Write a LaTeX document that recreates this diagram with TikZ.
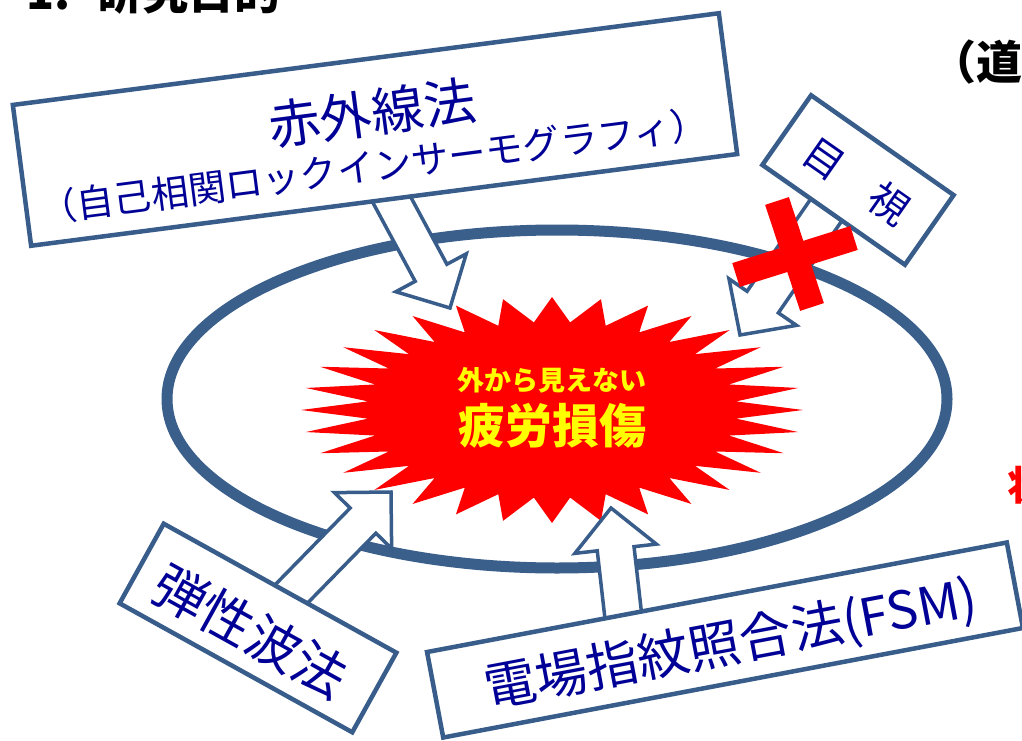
\documentclass[tikz,border=0pt]{standalone}
\usepackage{fontspec}
\newfontfamily\jp{Noto Sans CJK JP}
\usetikzlibrary{calc}
\definecolor{boxblue}{RGB}{56,93,138}
\definecolor{ringblue}{RGB}{58,95,139}
\definecolor{txtblue}{RGB}{0,0,150}
\definecolor{burst}{RGB}{255,0,0}
\definecolor{burstText}{RGB}{255,255,0}
\newcommand\fsz[1]{\fontsize{#1}{#1}\selectfont}
% block arrow: #1 tail, #2 tip, #3 shaft width, #4 head width, #5 head length
\newcommand\blockarrow[5]{%
  \draw[barrow] let \p1=(#1), \p2=(#2),
     \n1={atan2(\y2-\y1,\x2-\x1)}, \n2={veclen(\x2-\x1,\y2-\y1)} in
    (\p2)
    -- ({\x2-(#5)*cos(\n1)-(#4/2)*sin(\n1)},{\y2-(#5)*sin(\n1)+(#4/2)*cos(\n1)})
    -- ({\x2-(#5)*cos(\n1)-(#3/2)*sin(\n1)},{\y2-(#5)*sin(\n1)+(#3/2)*cos(\n1)})
    -- ({\x2-\n2*cos(\n1)-(#3/2)*sin(\n1)},{\y2-\n2*sin(\n1)+(#3/2)*cos(\n1)})
    -- ({\x2-\n2*cos(\n1)+(#3/2)*sin(\n1)},{\y2-\n2*sin(\n1)-(#3/2)*cos(\n1)})
    -- ({\x2-(#5)*cos(\n1)+(#3/2)*sin(\n1)},{\y2-(#5)*sin(\n1)-(#3/2)*cos(\n1)})
    -- ({\x2-(#5)*cos(\n1)+(#4/2)*sin(\n1)},{\y2-(#5)*sin(\n1)-(#4/2)*cos(\n1)})
    -- cycle;}
\tikzset{
  methodbox/.style={draw=boxblue, fill=white, line width=4.5pt, rectangle, inner sep=0pt},
  lbl/.style={text=txtblue, inner sep=0pt},
  barrow/.style={draw=boxblue, fill=white, line width=3.5pt, line join=miter},
  bursttxt/.style={text=burstText, inner sep=0pt},
  crossbar/.style={draw=burst, line width=25pt},
  edgetxt/.style={anchor=base west, inner sep=0pt, font=\jp\bfseries\fsz{46}},
}
\begin{document}
\begin{tikzpicture}[x=1pt,y=-1pt]
\useasboundingbox (0,0) rectangle (1022,741);
\clip (0,0) rectangle (1022,741);
\fill[white] (0,0) rectangle (1022,741);

% partial texts at edges
\node[edgetxt] (title) at (26,10) {1.\hspace{0.57em}研究目的};
\node[edgetxt] (road) at (930,80) {（道};
\node[edgetxt, text=red, font=\jp\bfseries\fsz{40}] (side) at (1007,500) {状};

% ring
\draw[ringblue, line width=11pt] (557,399) ellipse [x radius=390, y radius=169];

% explosion
\fill[burst] plot[samples at={0,...,63}, variable=\k]
  ({552+(mod(\k,2)==0 ? 251 : 185)*cos(\k*5.625)},
   {410+(mod(\k,2)==0 ? 113 : 88)*sin(\k*5.625)}) -- cycle;
\node[bursttxt, font=\jp\bfseries\fsz{27}] (unseen) at (552,380) {外から見えない};
\node[bursttxt, font=\jp\bfseries\fsz{47}] (damage) at (552,426) {疲労損傷};

% anchor points
\coordinate (irtail) at (365,150);
\coordinate (irtip) at (450,308);
\coordinate (eyetail) at (840,190);
\coordinate (eyetip) at (740,335);
\coordinate (ewc) at (258,628);
\coordinate (ewtip) at (391,492);
\coordinate (fsmtail) at (626,640);
\coordinate (fsmtip) at (611,508);

% arrows
\blockarrow{irtail}{irtip}{36}{80}{40}
\blockarrow{eyetail}{eyetip}{38}{82}{40}
\blockarrow{ewc}{ewtip}{36}{80}{40}
\blockarrow{fsmtail}{fsmtip}{37}{82}{41}

% method boxes
\node[methodbox, minimum width=712pt, minimum height=142pt, rotate=7.4] (ir) at (375,129.5) {};
\node[lbl, font=\jp\fsz{52}, rotate=7.4] (ir1) at (372,113) {赤外線法};
\node[lbl, font=\jp\fsz{37.5}, rotate=7.4] (ir2) at (374,166) {（自己相関ロックインサーモグラフィ）};

\node[methodbox, minimum width=174pt, minimum height=85pt, rotate=-35] (eye) at (858,180) {};
\node[lbl, font=\jp\fsz{40}, rotate=-35] (eyet) at (857,181) {目　視};

\node[methodbox, minimum width=266pt, minimum height=91pt, rotate=-29] (ew) at (ewc) {};
\node[lbl, font=\jp\fsz{53}, rotate=-29] (ewt) at (251,631) {弾性波法};

\node[methodbox, minimum width=590pt, minimum height=87pt, rotate=10.7] (fsm) at (725,640) {};
\node[lbl, font=\jp\fsz{52}, rotate=10.7] (fsmt) at (731,645) {電場指紋照合法(FSM)};

% red cross over visual inspection
\coordinate (xa1) at (777,201);
\coordinate (xa2) at (812,307);
\coordinate (xb1) at (736,275);
\coordinate (xb2) at (854,238);
\draw[crossbar] (xa1) -- (xa2);
\draw[crossbar] (xb1) -- (xb2);
\end{tikzpicture}
\end{document}
